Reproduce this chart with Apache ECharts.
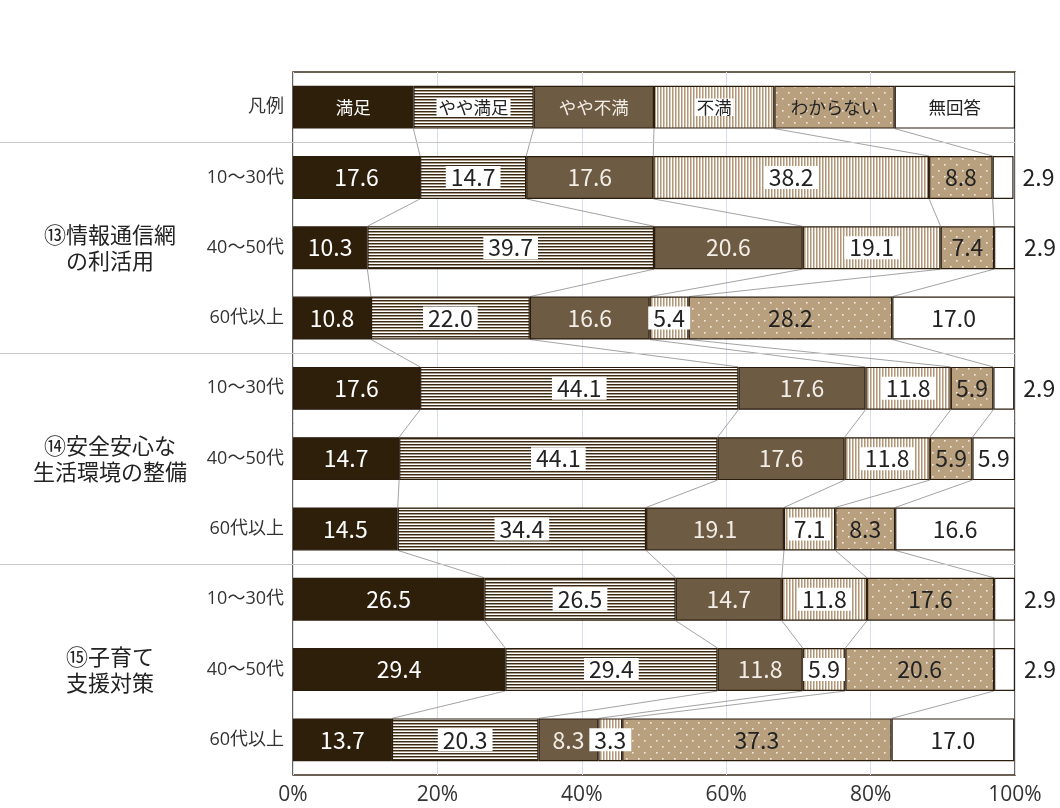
<!DOCTYPE html>
<html><head><meta charset="utf-8">
<script src="https://cdn.jsdelivr.net/npm/echarts@6/dist/echarts.min.js"></script>
<style>html,body{margin:0;padding:0;background:#fff}#c{width:1060px;height:808px}</style>
</head><body><div id="c"></div>
<script>
// ---- data ----
const seriesNames = ['満足','やや満足','やや不満','不満','わからない','無回答'];
const rowLabels = ['凡例','10～30代','40～50代','60代以上','10～30代','40～50代','60代以上','10～30代','40～50代','60代以上'];
const groupNames = ['⑬情報通信網\nの利活用','⑭安全安心な\n生活環境の整備','⑮子育て\n支援対策'];
const groupMidRows = [2,5,8];
const groupStartRows = [1,4,7];
const legendRow = [16.667,16.667,16.667,16.667,16.667,16.665];
const rowValues = [
  [17.6,14.7,17.6,38.2,8.8,2.9],
  [10.3,39.7,20.6,19.1,7.4,2.9],
  [10.8,22.0,16.6,5.4,28.2,17.0],
  [17.6,44.1,17.6,11.8,5.9,2.9],
  [14.7,44.1,17.6,11.8,5.9,5.9],
  [14.5,34.4,19.1,7.1,8.3,16.6],
  [26.5,26.5,14.7,11.8,17.6,2.9],
  [29.4,29.4,11.8,5.9,20.6,2.9],
  [13.7,20.3,8.3,3.3,37.3,17.0]
];
const xTicks = [0,20,40,60,80,100];

// ---- patterns ----
function mk(w,h,draw){const c=document.createElement('canvas');c.width=w;c.height=h;const g=c.getContext('2d');draw(g);return c;}
const hStripe = mk(4,3,g=>{g.fillStyle='#fff';g.fillRect(0,0,4,3);g.fillStyle='#3a2914';g.fillRect(0,0,4,1);g.fillStyle='#a89a88';g.fillRect(0,1,4,1);});
const vStripe = mk(3,4,g=>{g.fillStyle='#fff';g.fillRect(0,0,3,4);g.fillStyle='#b0967a';g.fillRect(0,0,1,4);g.fillStyle='#d8c7b2';g.fillRect(1,0,1,4);});
const dots = mk(12,12,g=>{g.fillStyle='#b8a07f';g.fillRect(0,0,12,12);g.fillStyle='#f4ece2';g.fillRect(2,2,1.6,1.6);g.fillRect(8,8,1.6,1.6);});

const fills = ['#2e1f0b',{image:hStripe,repeat:'repeat'},'#6e5b43',{image:vStripe,repeat:'repeat'},{image:dots,repeat:'repeat'},'#ffffff'];
const labelColors = ['#ffffff','#222','#f2ede6','#222','#222','#222'];
const labelBoxes = [false,true,false,true,false,false];
const BAR_RATIO = 0.61;
const FONT = '"Open Sans","Noto Sans CJK JP","Noto Sans",sans-serif';
const JFONT = '"Noto Sans CJK JP","Noto Sans",sans-serif';

const allRows = [legendRow].concat(rowValues);

const barSeries = seriesNames.map((name,k)=>{
  const lab = {
    show:true, position:'inside', color:labelColors[k], fontSize:23, fontFamily:JFONT,
    formatter:p=>p.dataIndex===0?name:Number(p.value).toFixed(1)
  };
  if(labelBoxes[k]){lab.backgroundColor='#fff';lab.padding=[1,5,-1,5];}
  return {
    name, type:'bar', stack:'all', barWidth:(BAR_RATIO*100)+'%',
    itemStyle:{color:fills[k],borderColor:'#2b1d0e',borderWidth:1.2},
    label:lab, emphasis:{disabled:true}, z:3,
    data: allRows.map((r,i)=>{
      const item={value:r[k]};
      if(i===0){item.label={fontSize:17.5,padding:labelBoxes[k]?[1,2,-1,2]:0};}
      else if(k===5 && r[k]<5){item.label={position:'right',distance:9,color:'#222'};}
      return item;
    })
  };
});

function cum(row,k){let s=0;for(let j=0;j<=k;j++)s+=row[j];return s;}

const connSeries = {
  type:'custom', z:1, silent:true,
  data: allRows.slice(0,-1).map((_,i)=>[0,i]),
  encode:{x:0,y:1},
  renderItem:(params,api)=>{
    const i=api.value(1);
    const band=api.size([0,1])[1];
    const half=band*BAR_RATIO/2;
    const children=[];
    for(let k=0;k<5;k++){
      const a=api.coord([cum(allRows[i],k),i]);
      const b=api.coord([cum(allRows[i+1],k),i+1]);
      children.push({type:'line',shape:{x1:a[0],y1:a[1]+half,x2:b[0],y2:b[1]-half},style:{stroke:'#8c8c8c',lineWidth:0.8}});
    }
    return {type:'group',children};
  }
};

const sepSeries = {
  type:'custom', z:1, silent:true, clip:false,
  data: groupStartRows.map(r=>[0,r]),
  encode:{x:0,y:1},
  renderItem:(params,api)=>{
    const i=api.value(1);
    const band=api.size([0,1])[1];
    const p=api.coord([100,i]);
    const y=Math.round(p[1]-band/2)+0.5;
    return {type:'line',shape:{x1:0,y1:y,x2:p[0],y2:y},style:{stroke:'#c8c8c8',lineWidth:1}};
  }
};

const chart = echarts.init(document.getElementById('c'),null,{renderer:'canvas'});
chart.setOption({
  animation:false,
  backgroundColor:'#fff',
  textStyle:{fontFamily:FONT},
  grid:{left:293,right:45,top:72,bottom:33,show:true,borderColor:'#3b2c1c',borderWidth:1.5,backgroundColor:'transparent'},
  xAxis:{type:'value',min:0,max:100,interval:20,
    axisLine:{show:false},axisTick:{show:false},
    axisLabel:{formatter:v=>xTicks.includes(v)?v+'%':'',fontSize:21,color:'#333',margin:10,fontFamily:FONT},
    splitLine:{show:true,lineStyle:{color:'#d6deea',width:1}}},
  yAxis:[
    {type:'category',inverse:true,data:rowLabels,
      axisLine:{show:false},axisTick:{show:false},
      axisLabel:{fontSize:18,color:'#333',margin:9,fontFamily:FONT}},
    {type:'category',inverse:true,data:rowLabels,position:'left',
      axisLine:{show:false},axisTick:{show:false},
      axisLabel:{fontSize:22,color:'#222',margin:183,align:'center',lineHeight:26,fontFamily:JFONT,
        interval:0,
        formatter:(v,idx)=>{const g=groupMidRows.indexOf(idx);return g>=0?groupNames[g]:'';}}}
  ],
  series:[connSeries,sepSeries].concat(barSeries)
});
</script></body></html>
